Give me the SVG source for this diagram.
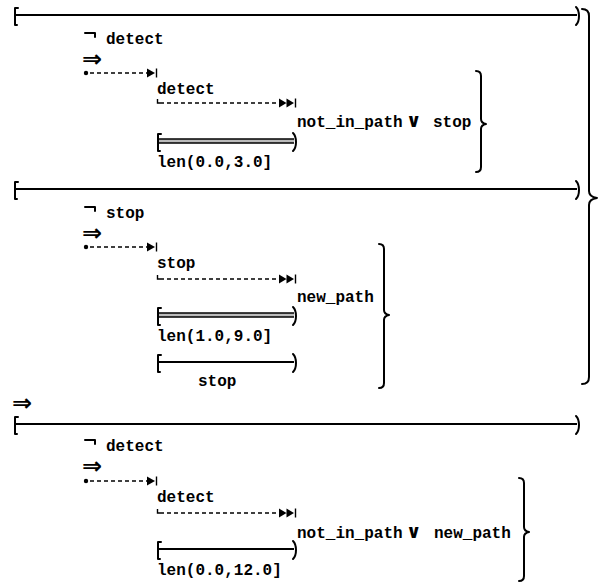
<svg xmlns="http://www.w3.org/2000/svg" xmlns:xlink="http://www.w3.org/1999/xlink" width="599" height="583" viewBox="0 0 599 583">
<style>
  .t { font-family: "Liberation Mono", "DejaVu Sans Mono", monospace; font-weight: bold; font-size: 16px; fill: #000; }
  .sym { font-family: "DejaVu Sans", sans-serif; font-weight: bold; fill: #000; }
  .imp { font-size: 24px; }
  .or { font-size: 19px; }
  .ln { stroke: #000; stroke-width: 1.8; fill: none; }
  .thin { stroke: #000; stroke-width: 1.4; fill: none; }
  .dash { stroke: #000; stroke-width: 1.5; fill: none; stroke-dasharray: 4 3; }
  .br { stroke: #000; stroke-width: 2; fill: none; stroke-linecap: round; stroke-linejoin: round; }
  .fill { fill: #000; stroke: none; }
</style>
<defs>
  <g id="lb"><path class="br" d="M3,-7 L0,-7 L0,10 L2,10"/></g>
  <g id="rp"><path class="br" d="M-2,-8 C2,-4 2,6 -2,10"/></g>
  <g id="ah1"><path class="fill" d="M-8,-4.5 L0,0 L-8,4.5 Z"/><line class="thin" x1="1.5" y1="-4.5" x2="1.5" y2="4.5"/></g>
  <g id="ah2"><path class="fill" d="M-15,-4.5 L-7.5,0 L-15,4.5 Z M-7.5,-4.5 L0,0 L-7.5,4.5 Z"/><line class="thin" x1="1.5" y1="-4.5" x2="1.5" y2="4.5"/></g>
  <g id="neg"><path class="br" d="M0,0 L10,0 L10,4"/></g>
</defs>

<g id="connectors">
  <!-- main intervals -->
  <line class="ln" x1="15" y1="15" x2="577" y2="15"/>
  <use xlink:href="#lb" x="15" y="15"/><use xlink:href="#rp" x="578" y="15"/>
  <line class="ln" x1="15" y1="189" x2="577" y2="189"/>
  <use xlink:href="#lb" x="15" y="189"/><use xlink:href="#rp" x="578" y="189"/>
  <line class="ln" x1="15" y1="424" x2="577" y2="424"/>
  <use xlink:href="#lb" x="15" y="424"/><use xlink:href="#rp" x="578" y="424"/>

  <!-- dotted arrows -->
  <circle class="fill" cx="86" cy="73" r="2.2"/>
  <line class="dash" x1="90" y1="73" x2="147" y2="73"/>
  <use xlink:href="#ah1" x="155" y="73"/>
  <circle class="fill" cx="86" cy="247" r="2.2"/>
  <line class="dash" x1="90" y1="247" x2="147" y2="247"/>
  <use xlink:href="#ah1" x="155" y="247"/>
  <circle class="fill" cx="86" cy="481" r="2.2"/>
  <line class="dash" x1="90" y1="481" x2="147" y2="481"/>
  <use xlink:href="#ah1" x="155" y="481"/>

  <!-- dashed lines with double heads -->
  <path class="thin" d="M157.5,99 L157.5,103 L160,103"/>
  <line class="dash" x1="160" y1="103" x2="279" y2="103"/>
  <use xlink:href="#ah2" x="294" y="103"/>
  <path class="thin" d="M157.5,275 L157.5,279 L160,279"/>
  <line class="dash" x1="160" y1="279" x2="279" y2="279"/>
  <use xlink:href="#ah2" x="294" y="279"/>
  <path class="thin" d="M157.5,509 L157.5,513 L160,513"/>
  <line class="dash" x1="160" y1="513" x2="279" y2="513"/>
  <use xlink:href="#ah2" x="294" y="513"/>

  <!-- double-line intervals -->
  <rect x="158" y="139" width="136" height="4" fill="#bbb"/>
  <line class="thin" x1="158" y1="139" x2="294" y2="139"/>
  <line class="thin" x1="158" y1="143" x2="294" y2="143"/>
  <use xlink:href="#lb" x="158" y="141"/><use xlink:href="#rp" x="295" y="141"/>
  <rect x="158" y="313" width="136" height="4" fill="#bbb"/>
  <line class="thin" x1="158" y1="313" x2="294" y2="313"/>
  <line class="thin" x1="158" y1="317" x2="294" y2="317"/>
  <use xlink:href="#lb" x="158" y="315"/><use xlink:href="#rp" x="295" y="315"/>

  <!-- single intervals -->
  <line class="ln" x1="158" y1="362" x2="294" y2="362"/>
  <use xlink:href="#lb" x="158" y="362"/><use xlink:href="#rp" x="295" y="362"/>
  <line class="ln" x1="158" y1="549" x2="294" y2="549"/>
  <use xlink:href="#lb" x="158" y="549"/><use xlink:href="#rp" x="295" y="549"/>

  <!-- braces -->
  <path class="br" d="M582,9 Q589,9 589,16 L589,191 Q589,197 597,198 Q589,199 589,205 L589,377 Q589,384 582,384"/>
  <path class="br" d="M476,71 Q481,71 481,76 L481,119 Q481,123 486,124 Q481,125 481,129 L481,167 Q481,172 476,172"/>
  <path class="br" d="M379,244 Q384,244 384,249 L384,310 Q384,314 389,315 Q384,316 384,320 L384,383 Q384,388 379,388"/>
  <path class="br" d="M519,478 Q524,478 524,483 L524,527 Q524,531 529,532 Q524,533 524,537 L524,576 Q524,581 519,581"/>
</g>

<g id="n1">
  <use xlink:href="#neg" x="85" y="33"/>
  <text class="t" x="106" y="44">detect</text>
  <text class="sym imp" x="82" y="67">⇒</text>
  <text class="t" x="157" y="94">detect</text>
  <text class="t" x="297" y="127">not_in_path</text>
  <text class="sym or" x="406" y="127">∨</text>
  <text class="t" x="433" y="127">stop</text>
  <text class="t" x="157" y="167">len(0.0,3.0]</text>
</g>
<g id="n2">
  <use xlink:href="#neg" x="85" y="207"/>
  <text class="t" x="106" y="218">stop</text>
  <text class="sym imp" x="82" y="241">⇒</text>
  <text class="t" x="157" y="268">stop</text>
  <text class="t" x="297" y="302">new_path</text>
  <text class="t" x="157" y="341">len(1.0,9.0]</text>
  <text class="t" x="198" y="386">stop</text>
</g>
<g id="n0">
  <text class="sym imp" x="12" y="411">⇒</text>
</g>
<g id="n3">
  <use xlink:href="#neg" x="85" y="440"/>
  <text class="t" x="106" y="451">detect</text>
  <text class="sym imp" x="82" y="474">⇒</text>
  <text class="t" x="157" y="502">detect</text>
  <text class="t" x="297" y="538">not_in_path</text>
  <text class="sym or" x="406" y="538">∨</text>
  <text class="t" x="434" y="538">new_path</text>
  <text class="t" x="157" y="575">len(0.0,12.0]</text>
</g>
</svg>
